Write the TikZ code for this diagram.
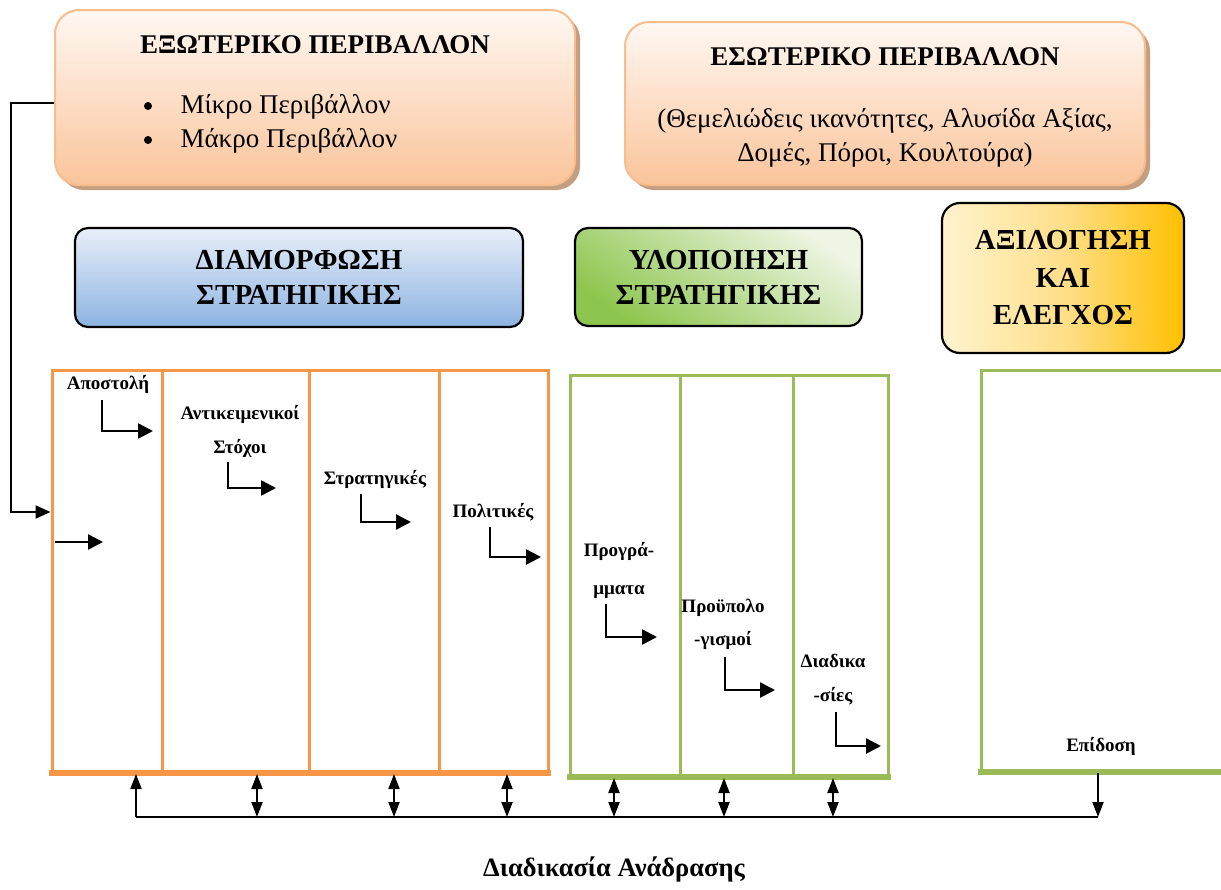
\documentclass[tikz,border=0pt]{standalone}
\usepackage{fontspec}
\setmainfont{Liberation Serif}
\usetikzlibrary{arrows.meta,shadows,calc}

\definecolor{peachtop}{HTML}{FFF8F3}
\definecolor{peachbot}{HTML}{FAC49A}
\definecolor{peachline}{HTML}{F8BD8D}
\definecolor{peachshadow}{HTML}{C49E80}
\definecolor{bluetop}{HTML}{E8EFF9}
\definecolor{bluebot}{HTML}{8DB3E2}
\definecolor{greendark}{HTML}{8DC64E}
\definecolor{greenpale}{HTML}{EEF5E4}
\definecolor{goldpale}{HTML}{FFF3CF}
\definecolor{goldmid}{HTML}{FFDF8A}
\definecolor{golddeep}{HTML}{FFC000}
\definecolor{formline}{HTML}{F79646}
\definecolor{implline}{HTML}{9BBB59}

\tikzset{
  envbox/.style={rectangle, rounded corners=24pt, draw=peachline, line width=2pt,
    top color=peachtop, bottom color=peachbot,
    general shadow={fill=peachshadow, shadow xshift=5pt, shadow yshift=-5pt}},
  envtext/.style={font=\fontsize{27}{34}\selectfont},
  phasebox/.style={rectangle, rounded corners=13pt, draw=black, line width=2.2pt,
    align=center, font=\fontsize{29}{35}\selectfont\bfseries},
  formcol/.style={rectangle, draw=formline, line width=3pt, minimum height=401pt},
  implcol/.style={rectangle, draw=implline, line width=3pt, minimum height=400pt},
  steplabel/.style={align=center, font=\fontsize{19}{34}\selectfont\bfseries, inner sep=0pt},
  bulletdot/.style={circle, fill=black, inner sep=0pt, minimum size=8pt},
  elbow/.style={line width=2.6pt, -{Triangle[length=15pt,width=15pt]}},
  feed/.style={line width=2pt},
  fbup/.style={line width=2pt, -{Triangle[length=15pt,width=11pt]}},
  fbboth/.style={line width=2pt, {Triangle[length=15pt,width=11pt]}-{Triangle[length=15pt,width=11pt]}},
}

\begin{document}
\begin{tikzpicture}[x=1pt,y=-1pt]
\clip (0,0) rectangle (1221,889);
\fill[white] (0,0) rectangle (1221,889);

% environment boxes
\node[envbox, minimum width=520pt, minimum height=175pt] (ext) at (315,97.5) {};
\node[envtext, font=\fontsize{27}{34}\selectfont\bfseries] (extT) at (315,45) {ΕΞΩΤΕΡΙΚΟ ΠΕΡΙΒΑΛΛΟΝ};
\node[bulletdot] (b1) at (148,106) {};
\node[bulletdot] (b2) at (148,140) {};
\node[envtext, anchor=west] (mikro) at (177,107) {Μίκρο Περιβάλλον};
\node[envtext, anchor=west] (makro) at (177,141) {Μάκρο Περιβάλλον};

\node[envbox, minimum width=520pt, minimum height=163pt] (int) at (885,103.5) {};
\node[envtext, font=\fontsize{27}{34}\selectfont\bfseries] (intT) at (885,57) {ΕΣΩΤΕΡΙΚΟ ΠΕΡΙΒΑΛΛΟΝ};
\node[envtext, align=center] (intB) at (885,138)
  {(Θεμελιώδεις ικανότητες, Αλυσίδα Αξίας,\\Δομές, Πόροι, Κουλτούρα)};

% phase headings
\node[phasebox, top color=bluetop, bottom color=bluebot,
  minimum width=448pt, minimum height=99pt] (form) at (299,277.5)
  {ΔΙΑΜΟΡΦΩΣΗ\\ΣΤΡΑΤΗΓΙΚΗΣ};
\node[phasebox, top color=greenpale, bottom color=greendark, shading angle=-35,
  minimum width=287pt, minimum height=98pt] (impl) at (718.5,277)
  {ΥΛΟΠΟΙΗΣΗ\\ΣΤΡΑΤΗΓΙΚΗΣ};
\node[phasebox, rounded corners=18pt, left color=goldpale, right color=golddeep, middle color=goldmid,
  minimum width=242pt, minimum height=150pt,
  font=\fontsize{29}{37.5}\selectfont\bfseries] (eval) at (1063,278)
  {ΑΞΙΛΟΓΗΣΗ\\ΚΑΙ\\ΕΛΕΓΧΟΣ};

% formulation columns
\node[formcol, minimum width=110pt] (c1) at (107,570.5) {};
\node[formcol, minimum width=147pt] (c2) at (235.5,570.5) {};
\node[formcol, minimum width=130pt] (c3) at (374,570.5) {};
\node[formcol, minimum width=109pt] (c4) at (493.5,570.5) {};
\draw[formline, line width=6pt] ([xshift=-1.5pt]c1.south west) -- ([xshift=1.5pt]c4.south east);

% implementation columns
\node[implcol, minimum width=110pt] (g1) at (625,575) {};
\node[implcol, minimum width=113pt] (g2) at (736.5,575) {};
\node[implcol, minimum width=95pt] (g3) at (840.5,575) {};
\draw[implline, line width=6pt] ([xshift=-1.5pt]g1.south west) -- ([xshift=1.5pt]g3.south east);

% evaluation column
\node[implcol, minimum width=249pt] (e1) at (1105.5,570) {};
\draw[implline, line width=6pt] ([xshift=-1.5pt]e1.south west) -- (e1.south east);

% step labels
\node[steplabel] (apo) at (108,384) {Αποστολή};
\node[steplabel] (stoxoi) at (240,431) {Αντικειμενικοί\\Στόχοι};
\node[steplabel] (strat) at (375,479) {Στρατηγικές};
\node[steplabel] (polit) at (493,512) {Πολιτικές};
\node[steplabel, font=\fontsize{19}{38}\selectfont\bfseries] (progr) at (619,570) {Προγρά-\\μματα};
\node[steplabel, font=\fontsize{19}{33}\selectfont\bfseries] (proyp) at (723,624.5) {Προϋπολο\\-γισμοί};
\node[steplabel] (diad) at (833,680) {Διαδικα\\-σίες};
\node[steplabel] (epid) at (1101,746) {Επίδοση};

% flow inside the columns
\draw[elbow] (102,400) |- (153,431);
\draw[elbow] (55,542) -- (103,542);
\draw[elbow] (228,462) |- (276,488);
\draw[elbow] (361,494) |- (411,522);
\draw[elbow] (490,527) |- (541,557);
\draw[elbow] (606,604) |- (657,637);
\draw[elbow] (725,657) |- (775,690);
\draw[elbow] (836,712) |- (881,746);

% external environment feeds the formulation
\draw[feed, -{Triangle[length=15pt,width=13pt]}] ([yshift=-5.5pt]ext.west) -- ++(-43,0)
  |- ([yshift=58.5pt]c1.west);

% feedback loop
\coordinate (fbL) at (136,817);
\coordinate (fbR) at (1098,817);
\draw[feed] (fbL) -- (fbR);
\draw[fbup] (fbL) -- (136,774);
\draw[fbboth] (257,817) -- (257,774);
\draw[fbboth] (394,817) -- (394,774);
\draw[fbboth] (507,817) -- (507,774);
\draw[fbboth] (614,817) -- (614,778);
\draw[fbboth] (724,817) -- (724,778);
\draw[fbboth] (833,817) -- (833,778);
\draw[fbup] (1098,773) -- (fbR);

\node[font=\fontsize{26.5}{32}\selectfont\bfseries] (fbT) at (614,869) {Διαδικασία Ανάδρασης};
\end{tikzpicture}
\end{document}
